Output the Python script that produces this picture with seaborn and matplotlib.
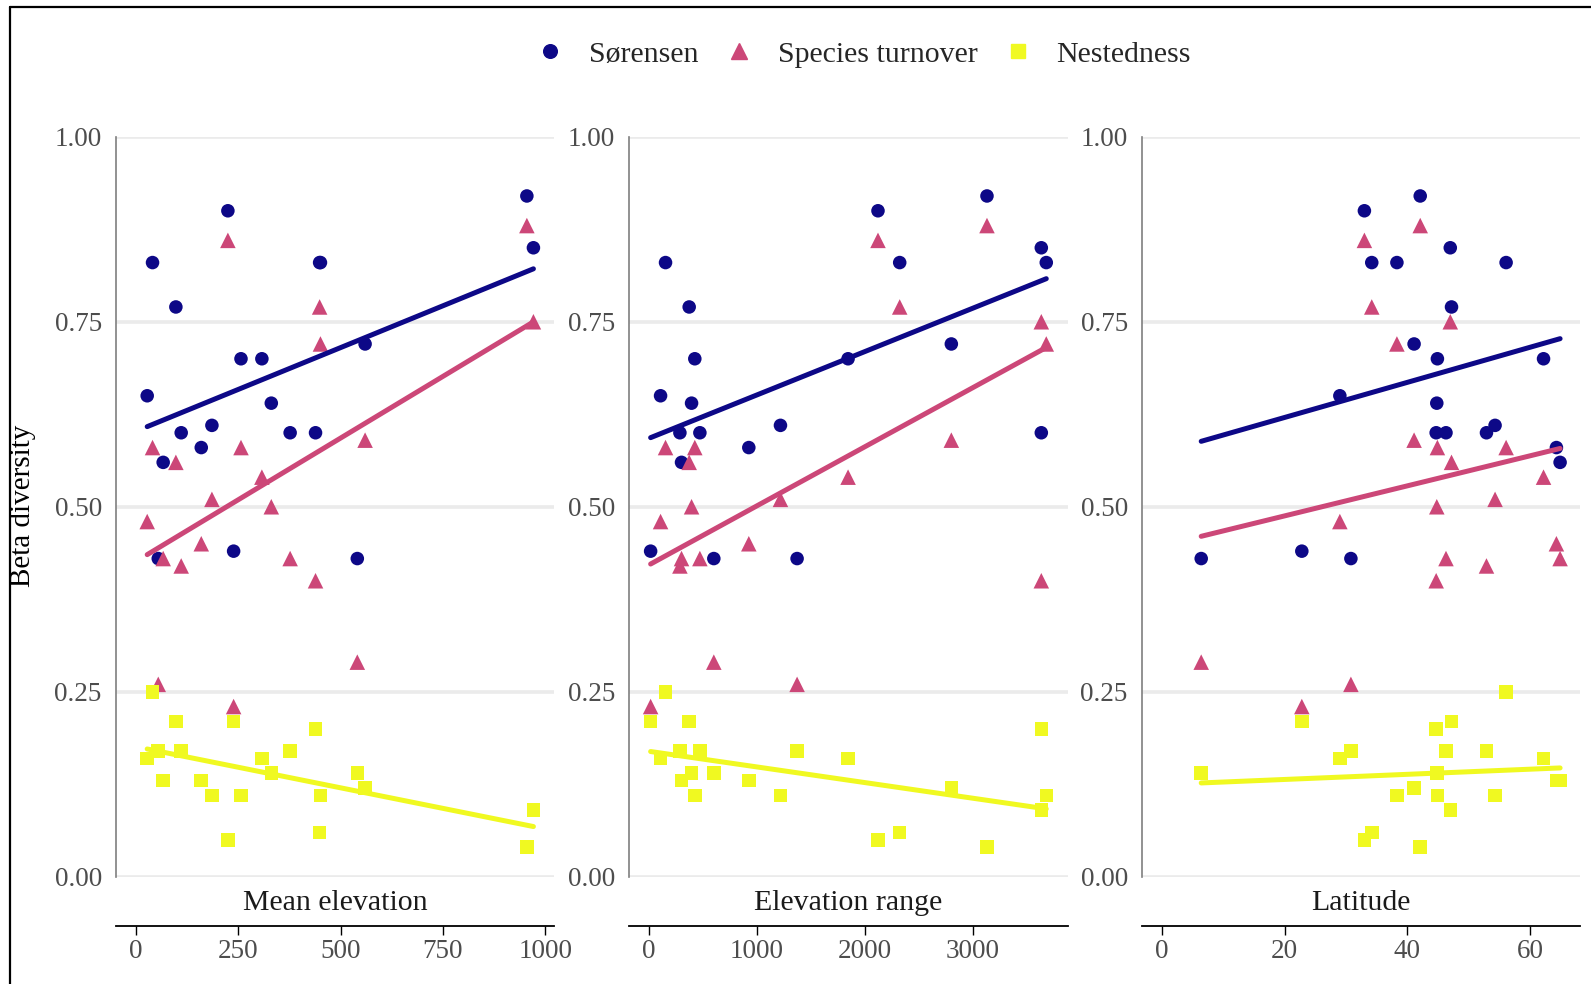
import numpy as np
import pandas as pd
import seaborn as sns
import matplotlib.pyplot as plt
from matplotlib.lines import Line2D

# site values (same 21 sites in every panel)
sorensen = [0.83, 0.77, 0.90, 0.83, 0.83, 0.92, 0.85, 0.72, 0.70, 0.70, 0.65,
            0.64, 0.60, 0.61, 0.60, 0.60, 0.58, 0.56, 0.43, 0.44, 0.43]
turnover = [0.58, 0.56, 0.86, 0.77, 0.72, 0.88, 0.75, 0.59, 0.58, 0.54, 0.48,
            0.50, 0.42, 0.51, 0.43, 0.40, 0.45, 0.43, 0.26, 0.23, 0.29]
nestedness = [0.25, 0.21, 0.05, 0.06, 0.11, 0.04, 0.09, 0.12, 0.11, 0.16, 0.16,
              0.14, 0.17, 0.11, 0.17, 0.20, 0.13, 0.13, 0.17, 0.21, 0.14]

mean_elev = [41, 98, 225, 449, 451, 955, 971, 560, 257, 308, 28,
             331, 111, 186, 377, 439, 160, 67, 55, 239, 541]
elev_range = [154, 373, 2121, 2322, 3679, 3130, 3633, 2800, 425, 1844, 108,
              395, 287, 1218, 472, 3633, 925, 302, 1372, 16, 601]
latitude = [56.1, 47.2, 33.0, 34.2, 38.3, 42.1, 47.0, 41.1, 44.9, 62.2, 29.0,
            44.8, 52.9, 54.3, 46.3, 44.7, 64.3, 64.9, 30.8, 22.8, 6.4]

panel_names = ['Mean elevation', 'Elevation range', 'Latitude']
measures = ['Sørensen', 'Species turnover', 'Nestedness']
x_ticks = [[0, 250, 500, 750, 1000], [0, 1000, 2000, 3000], [0, 20, 40, 60]]
y_ticks = [0.0, 0.25, 0.5, 0.75, 1.0]

# long table
rows = []
for pname, xs in zip(panel_names, [mean_elev, elev_range, latitude]):
    for mname, ys in zip(measures, [sorensen, turnover, nestedness]):
        for x, y in zip(xs, ys):
            rows.append({'panel': pname, 'measure': mname, 'x': x, 'value': y})
df = pd.DataFrame(rows)

colors = {'Sørensen': '#0D0887', 'Species turnover': '#CC4778', 'Nestedness': '#F0F921'}
markers = {'Sørensen': 'o', 'Species turnover': '^', 'Nestedness': 's'}
sizes = {'Sørensen': 95, 'Species turnover': 125, 'Nestedness': 95}

sns.set_theme(style='white')
plt.rcParams['font.family'] = ['Liberation Serif', 'DejaVu Serif']

fig = plt.figure(figsize=(15.91, 9.84), dpi=100)

lefts = [0.0727, 0.3955, 0.7176]
xlims = [(-49, 1022), (-182, 3879), (-3.3, 68.2)]

for i, pname in enumerate(panel_names):
    ax = fig.add_axes([lefts[i], 0.109, 0.2757, 0.752])
    sub = df[df.panel == pname]
    for m in measures:
        d = sub[sub.measure == m]
        sns.scatterplot(data=d, x='x', y='value', marker=markers[m], s=sizes[m],
                        color=colors[m], edgecolor='none', linewidth=0,
                        ax=ax, zorder=3, legend=False)
    for m in measures:
        d = sub[sub.measure == m]
        sns.regplot(data=d, x='x', y='value', scatter=False, ci=None, truncate=True,
                    color=colors[m], line_kws={'lw': 3.6, 'zorder': 4}, ax=ax)

    ax.set_xlim(*xlims[i])
    ax.set_ylim(0, 1)
    ax.set_xticks(x_ticks[i])
    ax.set_yticks(y_ticks)
    ax.set_yticklabels(['%.2f' % v for v in y_ticks])
    ax.set_xlabel('')
    ax.set_ylabel('')
    ax.set_axisbelow(True)
    ax.grid(False)
    ax.yaxis.grid(True, color='#EBEBEB', lw=2.6)

    for s in ['top', 'right']:
        ax.spines[s].set_visible(False)
    ax.spines['left'].set_color('#7F7F7F')
    ax.spines['left'].set_linewidth(1.2)
    ax.spines['bottom'].set_position(('outward', 35.3))
    ax.spines['bottom'].set_color('black')
    ax.spines['bottom'].set_linewidth(1.3)

    ax.tick_params(axis='x', length=6.5, width=1, color='black', labelcolor='#4D4D4D',
                   labelsize=19.5, pad=3, bottom=True)
    ax.tick_params(axis='y', length=0, labelcolor='#4D4D4D', labelsize=19.5, pad=10, left=True)

    ax.text(0.5, -0.0355, pname, transform=ax.transAxes, ha='center', va='center',
            fontsize=21.5, color='#1A1A1A')

fig.text(0.0145, 0.486, 'Beta diversity', rotation=90, ha='center', va='center',
         fontsize=21, color='black')

handles = [Line2D([], [], ls='', marker=markers[m], color=colors[m],
                  markersize=9.8 if m != 'Species turnover' else 11.2) for m in measures]
fig.legend(handles, measures, loc='center', bbox_to_anchor=(0.5425, 0.945), ncol=3,
           frameon=False, fontsize=21.5, handlelength=1, handletextpad=0.8,
           columnspacing=0.85)

# frame edges visible in the original crop
fig.add_artist(Line2D([0.0065, 0.0065], [0, 0.993], transform=fig.transFigure,
                      color='black', lw=1.6))
fig.add_artist(Line2D([0.0065, 1], [0.993, 0.993], transform=fig.transFigure,
                      color='black', lw=1.6))

fig.savefig('out.png', dpi=100, facecolor='white')
